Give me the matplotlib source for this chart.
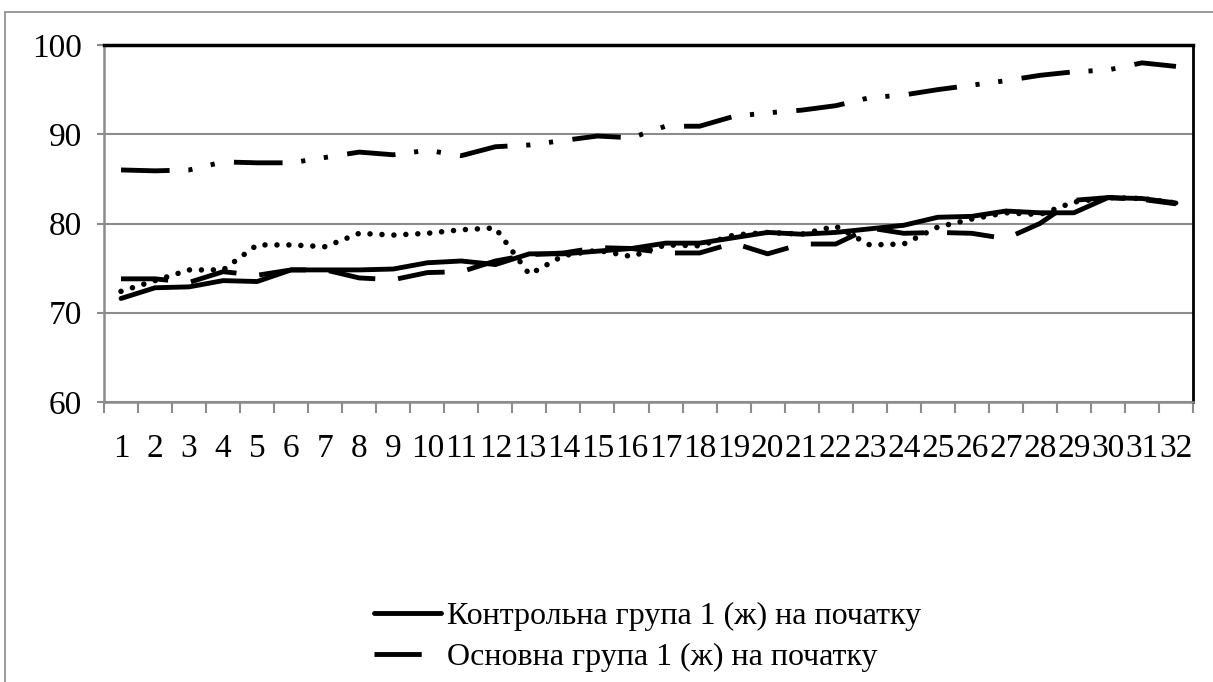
import matplotlib
matplotlib.use("Agg")
import matplotlib.pyplot as plt
from matplotlib.patches import Rectangle
from matplotlib.ticker import FixedLocator, NullFormatter

plt.rcParams['font.family'] = ['Liberation Serif', 'DejaVu Serif']
plt.rcParams['lines.scale_dashes'] = False

categories = list(range(1, 33))
control_start = [71.6, 72.8, 72.9, 73.6, 73.5, 74.8, 74.8, 74.8, 74.9, 75.6, 75.8, 75.4,
                 76.6, 76.6, 76.9, 77.2, 77.8, 77.8, 78.4, 79.0, 78.8, 79.0, 79.4, 79.8,
                 80.7, 80.8, 81.4, 81.2, 81.2, 82.9, 82.8, 82.3]
main_start = [73.8, 73.8, 73.4, 74.6, 74.2, 74.8, 74.8, 73.9, 73.7, 74.5, 74.6, 75.8,
              76.5, 76.7, 77.3, 77.2, 76.7, 76.7, 77.8, 76.6, 77.7, 77.7, 79.5, 78.9,
              79.0, 78.9, 78.3, 80.0, 82.6, 82.9, 82.7, 82.2]
control_end = [72.4, 73.6, 74.8, 74.8, 77.6, 77.6, 77.4, 78.9, 78.7, 78.9, 79.3, 79.5,
               74.3, 76.4, 77.0, 76.3, 77.6, 77.5, 78.7, 79.0, 78.8, 79.7, 77.6, 77.7,
               79.6, 80.5, 81.2, 81.0, 82.4, 82.9, 82.8, 82.3]
main_end = [86.0, 85.9, 86.0, 86.9, 86.8, 86.8, 87.4, 88.0, 87.7, 88.2, 87.6, 88.6,
            88.8, 89.3, 89.8, 89.6, 90.9, 90.9, 92.0, 92.4, 92.7, 93.2, 94.1, 94.4,
            95.0, 95.5, 96.0, 96.6, 97.0, 97.2, 98.0, 97.6]
y_ticks = [60, 70, 80, 90, 100]
legend_labels = ["Контрольна група 1 (ж) на початку", "Основна група 1 (ж) на початку"]

W, H = 1213, 682
fig = plt.figure(figsize=(W / 100, H / 100), dpi=100)
ax = fig.add_axes([104 / W, 1 - 402 / H, (1193 - 104) / W, (402 - 45) / H])

# outer chart frame (left and top edges visible)
fig.patches.append(Rectangle((5 / W, -0.2), 1.3, 1.2 - 12 / H, transform=fig.transFigure,
                             fill=False, edgecolor='#8a8a8a', linewidth=1.2, zorder=0))

lw = 3.5
l1, = ax.plot(categories, control_start, color='black', lw=lw, solid_joinstyle='round',
              solid_capstyle='round', zorder=5)
l2, = ax.plot(categories, main_start, color='black', lw=lw, linestyle=(0, (34, 16.5)),
              dash_capstyle='butt', dash_joinstyle='round', zorder=5)
ax.plot(categories, control_end, color='black', lw=4.0, linestyle=(0, (0.01, 8.6)),
        dash_capstyle='round', zorder=5)
ax.plot(categories, main_end, color='black', lw=lw,
        linestyle=(0, (35, 13.5, 3, 13.5, 3, 14)), dash_capstyle='butt', zorder=5)

ax.set_xlim(0.5, 32.5)
ax.set_ylim(60, 100)
ax.set_yticks(y_ticks)
ax.yaxis.grid(True, color='#8c8c8c', linewidth=1.5)
ax.set_axisbelow(True)

ax.xaxis.set_major_locator(FixedLocator([i + 0.5 for i in range(0, 33)]))
ax.xaxis.set_major_formatter(NullFormatter())
ax.xaxis.set_minor_locator(FixedLocator(categories))
ax.set_xticklabels([str(c) for c in categories], minor=True)
ax.tick_params(axis='x', which='major', length=8, width=1.5, color='#8c8c8c', direction='out')
ax.tick_params(axis='x', which='minor', length=0, pad=23, labelsize=24)
ax.tick_params(axis='y', length=5, width=1.5, color='#8c8c8c', pad=11, labelsize=24)

for s in ['left', 'bottom']:
    ax.spines[s].set_color('#8c8c8c')
    ax.spines[s].set_linewidth(1.8)
ax.spines['top'].set_color('black')
ax.spines['top'].set_linewidth(2.5)
ax.spines['right'].set_color('black')
ax.spines['right'].set_linewidth(2.0)

leg = fig.legend([l1, l2], legend_labels, loc='upper left',
                 bbox_to_anchor=(358 / W, 1 - 586 / H), frameon=False, fontsize=23,
                 handlelength=2.1, handletextpad=0.2, labelspacing=0.35, borderpad=0)

fig.savefig('out.png', dpi=100)
